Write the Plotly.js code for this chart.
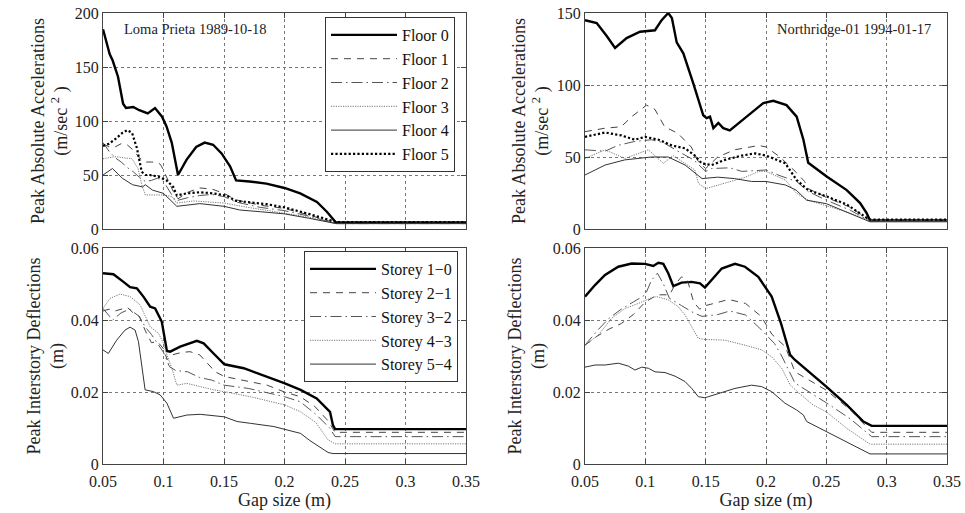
<!DOCTYPE html>
<html>
<head>
<meta charset="utf-8">
<script src="https://cdn.plot.ly/plotly-3.0.1.min.js"></script>
<style>
  html, body { margin: 0; padding: 0; background: #fff; }
  #graph1 { width: 965px; height: 513px; }
</style>
</head>
<body>
<div id="graph1"></div>
<script>
// Loma Prieta 1989-10-18 - peak absolute accelerations (m/sec^2)
const lpF0x = [0.05, 0.0555, 0.058, 0.0624, 0.0666, 0.069, 0.075, 0.080, 0.087, 0.093, 0.0988, 0.1025, 0.1068, 0.112, 0.119, 0.127, 0.134, 0.141, 0.148, 0.155, 0.160, 0.171, 0.185, 0.2, 0.213, 0.2268, 0.235, 0.2406, 0.2425, 0.35];
const lpF0y = [185, 162, 156, 141, 116, 112, 113, 110, 107, 112, 104, 95, 80, 50, 64, 76, 80, 78, 70, 58, 45, 44, 42, 38, 33, 25, 16, 8, 6, 6];
const lpF1x = [0.05, 0.055, 0.06, 0.065, 0.07, 0.075, 0.08, 0.085, 0.09, 0.095, 0.098, 0.102, 0.108, 0.112, 0.12, 0.13, 0.14, 0.15, 0.16, 0.18, 0.2, 0.22, 0.2425, 0.35];
const lpF1y = [79, 76, 76, 79, 78, 73, 66, 62, 62, 62, 59, 50, 35, 28, 34, 38, 37, 33, 27, 22, 19, 13, 5.5, 5.5];
const lpF2x = [0.05, 0.055, 0.06, 0.065, 0.07, 0.075, 0.08, 0.085, 0.09, 0.095, 0.1, 0.105, 0.11, 0.12, 0.13, 0.14, 0.15, 0.16, 0.18, 0.2, 0.22, 0.2425, 0.35];
const lpF2y = [80, 72, 66, 62, 57, 53, 48, 44, 45, 47, 44, 35, 26, 29, 31, 32, 30, 25, 20, 17, 12, 5, 5];
const lpF3x = [0.05, 0.06, 0.067, 0.074, 0.079, 0.082, 0.085, 0.1, 0.107, 0.111, 0.125, 0.15, 0.17, 0.2, 0.22, 0.2425, 0.35];
const lpF3y = [65, 67, 66, 65, 56, 41, 31.5, 31.5, 30, 24, 26, 24, 20, 15, 11, 5, 5];
const lpF4x = [0.05, 0.0578, 0.066, 0.0744, 0.0826, 0.085, 0.0909, 0.1, 0.111, 0.119, 0.13, 0.15, 0.163, 0.18, 0.2, 0.22, 0.2425, 0.35];
const lpF4y = [50, 56, 47, 41, 39, 41, 36, 33, 21, 22, 23.5, 21, 17.6, 16, 14, 10, 5, 5];
const lpF5x = [0.05, 0.055, 0.061, 0.066, 0.070, 0.074, 0.078, 0.082, 0.085, 0.0887, 0.0956, 0.1025, 0.108, 0.111, 0.119, 0.130, 0.141, 0.152, 0.160, 0.185, 0.2, 0.22, 0.2425, 0.35];
const lpF5y = [77, 79, 84, 89, 91.5, 89, 75, 53, 50, 50, 48.5, 45, 39, 31, 33, 34, 33, 31, 26, 23, 20, 14, 6.5, 6.5];

// Northridge-01 1994-01-17 - peak absolute accelerations
const nrF0x = [0.05, 0.0597, 0.068, 0.0749, 0.0845, 0.0956, 0.108, 0.1135, 0.119, 0.122, 0.126, 0.1315, 0.1398, 0.148, 0.1508, 0.1536, 0.1564, 0.1605, 0.1646, 0.170, 0.184, 0.1978, 0.206, 0.217, 0.2254, 0.231, 0.235, 0.250, 0.2669, 0.278, 0.2834, 0.2862, 0.35];
const nrF0y = [145, 143, 134, 125.7, 132.6, 137, 138, 145, 150, 146.5, 129.6, 122, 101, 79, 77, 78, 70, 73.6, 70, 68.5, 78, 87.5, 89, 86, 78, 62, 46, 36.6, 27, 18, 11, 6, 6];
const nrF1x = [0.05, 0.0666, 0.080, 0.0887, 0.101, 0.108, 0.116, 0.127, 0.138, 0.144, 0.15, 0.16, 0.174, 0.194, 0.2, 0.2116, 0.2254, 0.232, 0.235, 0.25, 0.27, 0.2862, 0.35];
const nrF1y = [67.6, 70, 71, 78, 86, 83, 71, 66.4, 57, 46.7, 42, 50, 55, 58, 57, 50, 39, 33, 28, 22, 15, 6, 6];
const nrF2x = [0.05, 0.0666, 0.077, 0.09, 0.105, 0.115, 0.125, 0.14, 0.15, 0.155, 0.17, 0.18, 0.2, 0.2116, 0.2254, 0.235, 0.25, 0.27, 0.2862, 0.35];
const nrF2y = [55, 54, 58, 60.6, 62, 60, 55, 48, 40, 42, 42.5, 40, 41, 37, 33, 26, 20, 13, 5.5, 5.5];
const nrF3x = [0.05, 0.0666, 0.083, 0.1025, 0.115, 0.123, 0.141, 0.144, 0.15, 0.166, 0.183, 0.194, 0.2, 0.216, 0.225, 0.235, 0.25, 0.27, 0.2862, 0.35];
const nrF3y = [49, 55, 49, 55, 45.6, 51, 41, 31.7, 28, 31.7, 36, 40, 40, 34, 25, 20, 16, 11, 5.5, 5.5];
const nrF4x = [0.05, 0.0666, 0.083, 0.105, 0.119, 0.133, 0.147, 0.16, 0.174, 0.188, 0.2, 0.216, 0.225, 0.2337, 0.25, 0.2862, 0.35];
const nrF4y = [37.5, 44.4, 48, 50, 50, 44.4, 35, 36, 35, 33, 33, 30.6, 27, 20, 17.6, 5, 5];
const nrF5x = [0.05, 0.0666, 0.08, 0.0914, 0.0997, 0.111, 0.122, 0.133, 0.141, 0.1467, 0.155, 0.166, 0.180, 0.191, 0.2, 0.216, 0.2254, 0.235, 0.25, 0.267, 0.283, 0.2862, 0.35];
const nrF5y = [64, 67, 65, 62, 64, 62, 58, 56, 51, 45.6, 44.4, 48, 51, 52.5, 51, 45.6, 34, 27, 22.7, 17, 8, 6.5, 6.5];

// Loma Prieta - peak interstory deflections (m)
const lpS10x = [0.05, 0.0586, 0.0669, 0.0724, 0.078, 0.0834, 0.089, 0.0931, 0.0986, 0.1028, 0.1055, 0.1138, 0.1276, 0.1332, 0.1414, 0.1503, 0.1663, 0.1856, 0.2003, 0.2133, 0.2266, 0.2376, 0.240, 0.2418, 0.35];
const lpS10y = [0.053, 0.0527, 0.0506, 0.0491, 0.0488, 0.0465, 0.0437, 0.0432, 0.0395, 0.0314, 0.0312, 0.0326, 0.0342, 0.0335, 0.0307, 0.0277, 0.0266, 0.0243, 0.0224, 0.0206, 0.0182, 0.0145, 0.0108, 0.0097, 0.0097];
const lpS21x = [0.05, 0.055, 0.06, 0.065, 0.07, 0.075, 0.08, 0.085, 0.09, 0.095, 0.1, 0.103, 0.107, 0.115, 0.122, 0.13, 0.1428, 0.1503, 0.165, 0.1856, 0.2, 0.213, 0.225, 0.236, 0.2418, 0.35];
const lpS21y = [0.0425, 0.043, 0.0425, 0.043, 0.0435, 0.042, 0.041, 0.037, 0.0337, 0.034, 0.032, 0.029, 0.0303, 0.031, 0.0312, 0.0303, 0.0256, 0.0243, 0.0233, 0.0219, 0.02, 0.0187, 0.016, 0.012, 0.0088, 0.0088];
const lpS32x = [0.05, 0.058, 0.065, 0.072, 0.08, 0.085, 0.09, 0.1, 0.105, 0.11, 0.12, 0.13, 0.14, 0.15, 0.17, 0.2, 0.213, 0.2266, 0.2376, 0.2418, 0.35];
const lpS32y = [0.0432, 0.040, 0.042, 0.043, 0.041, 0.038, 0.036, 0.031, 0.027, 0.026, 0.0256, 0.024, 0.0233, 0.0219, 0.021, 0.0187, 0.0173, 0.0136, 0.0099, 0.0076, 0.0076];
const lpS43x = [0.05, 0.0558, 0.0641, 0.0724, 0.0807, 0.0848, 0.089, 0.0959, 0.1, 0.1028, 0.1069, 0.111, 0.1193, 0.1304, 0.1414, 0.1503, 0.1718, 0.2003, 0.2133, 0.226, 0.236, 0.2418, 0.35];
const lpS43y = [0.0432, 0.046, 0.0472, 0.0465, 0.0442, 0.0414, 0.0381, 0.0363, 0.0335, 0.0303, 0.0266, 0.0219, 0.0224, 0.0215, 0.0206, 0.0201, 0.0187, 0.0164, 0.0145, 0.0115, 0.0067, 0.0056, 0.0056];
const lpS54x = [0.05, 0.0544, 0.0613, 0.0682, 0.0724, 0.0765, 0.0793, 0.082, 0.0848, 0.0917, 0.0972, 0.1028, 0.1083, 0.1193, 0.1304, 0.1503, 0.1608, 0.1718, 0.1912, 0.2133, 0.221, 0.236, 0.24, 0.35];
const lpS54y = [0.0317, 0.0307, 0.0344, 0.0372, 0.038, 0.0372, 0.034, 0.0275, 0.0206, 0.0201, 0.0192, 0.0169, 0.0127, 0.0136, 0.0138, 0.0131, 0.0118, 0.0113, 0.0104, 0.0085, 0.0065, 0.0032, 0.0029, 0.0029];

// Northridge - peak interstory deflections
const nrS10x = [0.05, 0.0583, 0.0666, 0.0776, 0.0887, 0.0997, 0.1066, 0.1108, 0.1149, 0.119, 0.1232, 0.130, 0.1384, 0.1453, 0.1494, 0.155, 0.1633, 0.1743, 0.1826, 0.1936, 0.2047, 0.2125, 0.22, 0.224, 0.2392, 0.25, 0.2669, 0.2807, 0.2876, 0.35];
const nrS10y = [0.0465, 0.0497, 0.0525, 0.0548, 0.0557, 0.0556, 0.055, 0.0559, 0.0556, 0.053, 0.0494, 0.0504, 0.0506, 0.0502, 0.049, 0.0511, 0.0543, 0.0556, 0.0548, 0.052, 0.0465, 0.039, 0.0303, 0.0289, 0.0247, 0.0215, 0.0164, 0.0118, 0.0106, 0.0106];
const nrS21x = [0.05, 0.06, 0.07, 0.08, 0.09, 0.1, 0.11, 0.12, 0.125, 0.13, 0.135, 0.14, 0.145, 0.15, 0.169, 0.183, 0.196, 0.205, 0.216, 0.224, 0.25, 0.27, 0.2876, 0.35];
const nrS21y = [0.033, 0.0355, 0.0375, 0.039, 0.0415, 0.045, 0.047, 0.047, 0.05, 0.052, 0.051, 0.045, 0.043, 0.044, 0.0457, 0.0446, 0.041, 0.036, 0.0326, 0.0256, 0.0205, 0.015, 0.0088, 0.0088];
const nrS32x = [0.05, 0.06, 0.07, 0.08, 0.09, 0.1, 0.105, 0.11, 0.115, 0.12, 0.13, 0.14, 0.147, 0.16, 0.17, 0.183, 0.194, 0.207, 0.213, 0.224, 0.25, 0.27, 0.2876, 0.35];
const nrS32y = [0.033, 0.037, 0.0405, 0.043, 0.045, 0.047, 0.051, 0.053, 0.05, 0.046, 0.044, 0.042, 0.041, 0.0415, 0.0425, 0.0414, 0.038, 0.0335, 0.03, 0.0225, 0.017, 0.0125, 0.0076, 0.0076];
const nrS43x = [0.05, 0.061, 0.0721, 0.0831, 0.0942, 0.1052, 0.1094, 0.119, 0.1273, 0.1329, 0.1384, 0.1439, 0.1494, 0.166, 0.1826, 0.1964, 0.2047, 0.213, 0.22, 0.227, 0.239, 0.25, 0.2669, 0.2862, 0.35];
const nrS43y = [0.033, 0.0358, 0.0405, 0.0432, 0.0446, 0.0462, 0.0465, 0.0456, 0.0437, 0.0414, 0.0381, 0.0349, 0.0346, 0.0344, 0.033, 0.0317, 0.0298, 0.0266, 0.022, 0.0198, 0.0164, 0.0145, 0.0099, 0.0055, 0.0055];
const nrS54x = [0.05, 0.0583, 0.0666, 0.0776, 0.0859, 0.0914, 0.097, 0.1025, 0.108, 0.1163, 0.1246, 0.1329, 0.1384, 0.1439, 0.1494, 0.1605, 0.1743, 0.1881, 0.1964, 0.2047, 0.2157, 0.2254, 0.231, 0.2337, 0.25, 0.267, 0.2862, 0.35];
const nrS54y = [0.0269, 0.0275, 0.0275, 0.028, 0.0272, 0.0261, 0.0269, 0.0266, 0.0256, 0.0254, 0.0244, 0.0229, 0.021, 0.0187, 0.0184, 0.0196, 0.021, 0.0219, 0.0215, 0.0201, 0.0169, 0.015, 0.0136, 0.0118, 0.009, 0.0062, 0.0028, 0.0028];

const floorNames = ['Floor 0', 'Floor 1', 'Floor 2', 'Floor 3', 'Floor 4', 'Floor 5'];
const storeyNames = ['Storey 1\u22120', 'Storey 2\u22121', 'Storey 3\u22122', 'Storey 4\u22123', 'Storey 5\u22124'];
const xTickVals = [0.05, 0.1, 0.15, 0.2, 0.25, 0.3, 0.35];

const FONT = 'Liberation Serif';

// line styles, same order as the legends
const floorStyles = [
  { color: '#000', width: 2.4, dash: 'solid' },
  { color: '#444', width: 1, dash: '7px,6px' },
  { color: '#555', width: 1, dash: '11px,4px,1.5px,4px' },
  { color: '#777', width: 1, dash: '1.2px,1.2px' },
  { color: '#333', width: 1, dash: 'solid' },
  { color: '#000', width: 2.2, dash: '2.2px,2.2px' }
];
const storeyStyles = floorStyles.slice(0, 5);

function mkTrace(x, y, name, style, xa, ya, legend, show) {
  return {
    x: x, y: y, name: name, mode: 'lines', type: 'scatter',
    xaxis: xa, yaxis: ya, legend: legend, showlegend: show,
    line: { color: style.color, width: style.width, dash: style.dash }
  };
}

const data = [];
const lpAcc = [[lpF0x, lpF0y], [lpF1x, lpF1y], [lpF2x, lpF2y], [lpF3x, lpF3y], [lpF4x, lpF4y], [lpF5x, lpF5y]];
const nrAcc = [[nrF0x, nrF0y], [nrF1x, nrF1y], [nrF2x, nrF2y], [nrF3x, nrF3y], [nrF4x, nrF4y], [nrF5x, nrF5y]];
const lpDef = [[lpS10x, lpS10y], [lpS21x, lpS21y], [lpS32x, lpS32y], [lpS43x, lpS43y], [lpS54x, lpS54y]];
const nrDef = [[nrS10x, nrS10y], [nrS21x, nrS21y], [nrS32x, nrS32y], [nrS43x, nrS43y], [nrS54x, nrS54y]];

lpAcc.forEach((s, i) => data.push(mkTrace(s[0], s[1], floorNames[i], floorStyles[i], 'x', 'y', 'legend', true)));
nrAcc.forEach((s, i) => data.push(mkTrace(s[0], s[1], floorNames[i], floorStyles[i], 'x2', 'y2', 'legend', false)));
lpDef.forEach((s, i) => data.push(mkTrace(s[0], s[1], storeyNames[i], storeyStyles[i], 'x3', 'y3', 'legend2', true)));
nrDef.forEach((s, i) => data.push(mkTrace(s[0], s[1], storeyNames[i], storeyStyles[i], 'x4', 'y4', 'legend2', false)));

// plot areas measured in pixels of the 965x513 picture
const W = 965, H = 513;
const leftDom = [103 / W, 466 / W];
const rightDom = [585 / W, 947 / W];
const topDom = [1 - 229 / H, 1 - 13 / H];
const botDom = [1 - 464 / H, 1 - 248 / H];

function xAxis(dom, anchor, labels) {
  const ax = {
    domain: dom, anchor: anchor, range: [0.05, 0.35],
    tickvals: xTickVals, ticktext: xTickVals.map(String),
    showticklabels: labels, ticklabelstandoff: 3,
    ticks: 'inside', ticklen: 5, tickcolor: '#444',
    showline: true, linecolor: '#444', linewidth: 1, mirror: 'ticks',
    showgrid: true, gridcolor: '#777', griddash: 'dot', gridwidth: 1,
    zeroline: false,
    tickfont: { family: FONT, size: 16, color: '#222' }
  };
  if (labels) {
    ax.title = { text: 'Gap size (m)', standoff: 0, font: { family: FONT, size: 18, color: '#222' } };
  }
  return ax;
}

function yAxis(dom, anchor, range, dtick, title, standoff) {
  return {
    domain: dom, anchor: anchor, range: range, dtick: dtick, tick0: 0,
    ticks: 'inside', ticklen: 5, tickcolor: '#444',
    showline: true, linecolor: '#444', linewidth: 1, mirror: 'ticks',
    showgrid: true, gridcolor: '#777', griddash: 'dot', gridwidth: 1,
    zeroline: false,
    tickfont: { family: FONT, size: 16, color: '#222' },
    title: { text: title, standoff: standoff, font: { family: FONT, size: 18, color: '#222' } }
  };
}

const accTitle = 'Peak Absolute Accelerations<br>(m/sec <sup>2</sup> )';
const defTitle = 'Peak Interstory Deflections<br>(m)';

const legendBase = {
  xanchor: 'right', yanchor: 'top',
  bgcolor: '#fff', bordercolor: '#333', borderwidth: 1,
  font: { family: FONT, size: 16, color: '#111' },
  itemwidth: 66,
  tracegroupgap: 0
};

const layout = {
  width: W, height: H,
  font: { family: FONT, size: 16, color: '#222' },
  paper_bgcolor: '#fff',
  plot_bgcolor: '#fff',
  margin: { l: 0, r: 0, t: 0, b: 0 },
  xaxis: xAxis(leftDom, 'y', false),
  yaxis: yAxis(topDom, 'x', [0, 200], 50, accTitle, 2),
  xaxis2: xAxis(rightDom, 'y2', false),
  yaxis2: yAxis(topDom, 'x2', [0, 150], 50, accTitle, 3),
  xaxis3: xAxis(leftDom, 'y3', true),
  yaxis3: yAxis(botDom, 'x3', [0, 0.06], 0.02, defTitle, 2),
  xaxis4: xAxis(rightDom, 'y4', true),
  yaxis4: yAxis(botDom, 'x4', [0, 0.06], 0.02, defTitle, 3),
  legend: Object.assign({ x: 455 / W, y: 1 - 17 / H }, legendBase),
  legend2: Object.assign({ x: 458 / W, y: 1 - 251 / H }, legendBase),
  annotations: [
    {
      text: 'Loma Prieta 1989-10-18', xref: 'paper', yref: 'paper',
      x: 122 / W, y: 1 - 29 / H, xanchor: 'left', yanchor: 'middle',
      showarrow: false, font: { family: FONT, size: 14.5, color: '#222' }
    },
    {
      text: 'Northridge-01 1994-01-17', xref: 'paper', yref: 'paper',
      x: 933 / W, y: 1 - 29 / H, xanchor: 'right', yanchor: 'middle',
      showarrow: false, font: { family: FONT, size: 14.5, color: '#222' }
    }
  ]
};

Plotly.newPlot('graph1', data, layout, { displayModeBar: false, staticPlot: true });
</script>
</body>
</html>
